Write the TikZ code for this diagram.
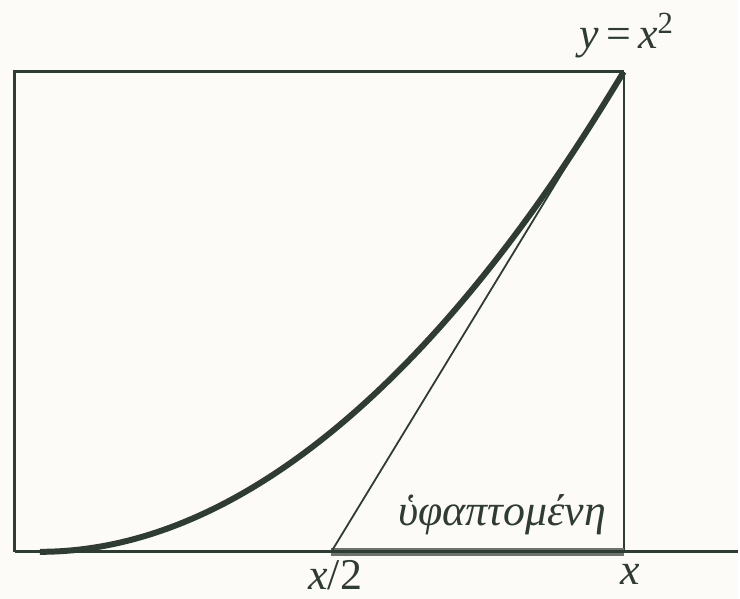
\documentclass[tikz,border=0pt]{standalone}
\usepackage{fontspec}
\setmainfont{Liberation Serif}
\usetikzlibrary{positioning}
\definecolor{ink}{HTML}{2F3C33}
\definecolor{smudge}{HTML}{6E736C}
\definecolor{paper}{HTML}{FCFBF8}

\begin{document}
\begin{tikzpicture}[x=0.5pt,y=-0.5pt, every node/.style={font=\fontsize{22}{25}\selectfont,text=ink,inner sep=0pt}]
    \fill[paper] (0,0) rectangle (740,600);
    \coordinate (corner) at (15,72);
    \coordinate (top) at (625,72);
    \coordinate (vertex) at (40,553);
    \coordinate (half) at (332,553);
    \coordinate (foot) at (625,553);
    \coordinate (left) at (15,553);
    \coordinate (axisend) at (740,553);
    \draw[ink,line width=1.5pt] (left) -- (corner) -- (top);
    \draw[ink,line width=1pt] (top) -- (foot);
    \draw[smudge,line width=4pt] (half) -- (foot);
    \draw[ink,line width=1.6pt] (left) -- (axisend);
    \draw[ink,line width=0.9pt] (half) -- (top);
    \draw[ink,line width=3pt] (vertex) parabola (top);
    \node (curve) at (628,36) {\textit{y}\,=\,\textit{x}\textsuperscript{2}};
    \node (tangent) at (503,516) {\textit{ὑφαπτομένη}};
    \node (halfx) at (336,576) {\textit{x}/2};
    \node (fullx) at (632,576) {\textit{x}};
  \end{tikzpicture}
\end{document}
